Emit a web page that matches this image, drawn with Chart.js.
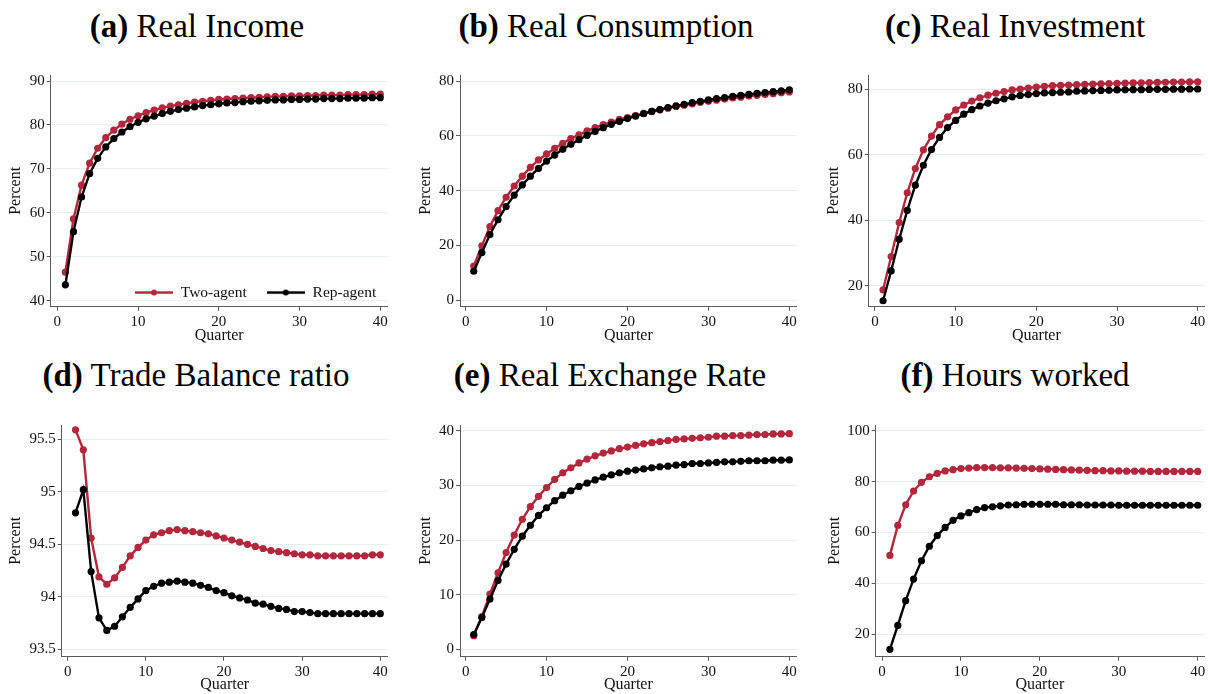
<!DOCTYPE html>
<html><head><meta charset="utf-8">
<script src="https://cdn.jsdelivr.net/npm/chart.js@4.4.1/dist/chart.umd.min.js"></script>
<style>
html,body{margin:0;padding:0;background:#fff;}
body{width:1208px;height:694px;position:relative;overflow:hidden;}
.title{position:absolute;font-family:'Liberation Serif',serif;font-size:33px;line-height:33px;color:#000;white-space:nowrap;transform:translateX(-50%);}
.title b{font-weight:bold;}
canvas{position:absolute;}
</style></head><body>
<div class="title" style="left:197px;top:10px"><b>(a)</b> Real Income</div>
<div class="title" style="left:606px;top:10px"><b>(b)</b> Real Consumption</div>
<div class="title" style="left:1015px;top:10px"><b>(c)</b> Real Investment</div>
<div class="title" style="left:196px;top:359px"><b>(d)</b> Trade Balance ratio</div>
<div class="title" style="left:610px;top:359px"><b>(e)</b> Real Exchange Rate</div>
<div class="title" style="left:1015px;top:359px"><b>(f)</b> Hours worked</div>
<script>
// ---------- data ----------
const quarters = [1,2,3,4,5,6,7,8,9,10,11,12,13,14,15,16,17,18,19,20,21,22,23,24,25,26,27,28,29,30,31,32,33,34,35,36,37,38,39,40];
const xTicks = [0,10,20,30,40];
const seriesLabels = ['Two-agent','Rep-agent'];

const incomeTwo = [46.5,58.6,66.3,71.3,74.7,77.1,78.8,80.2,81.3,82.1,82.8,83.4,83.9,84.3,84.6,84.9,85.2,85.4,85.6,85.8,85.9,86.0,86.1,86.2,86.3,86.4,86.5,86.5,86.6,86.6,86.7,86.7,86.8,86.8,86.8,86.9,86.9,86.9,87.0,87.0];
const incomeRep = [43.6,55.7,63.6,68.9,72.4,75.0,76.9,78.4,79.6,80.6,81.4,82.0,82.6,83.1,83.5,83.8,84.1,84.4,84.6,84.8,85.0,85.1,85.3,85.4,85.5,85.6,85.7,85.7,85.8,85.8,85.9,85.9,86.0,86.0,86.0,86.1,86.1,86.1,86.2,86.2];
const incomeTicks = [40,50,60,70,80,90];

const consTwo = [12.5,19.9,26.9,32.7,37.6,41.7,45.3,48.5,51.2,53.4,55.4,57.3,59.0,60.4,61.8,63.0,64.1,65.0,66.0,66.7,67.4,68.2,68.9,69.5,70.1,70.7,71.2,71.7,72.2,72.6,73.0,73.4,73.8,74.1,74.5,74.8,75.1,75.4,75.7,76.0];
const consRep = [10.6,17.4,24.0,29.4,34.2,38.4,42.1,45.3,48.1,50.8,53.0,55.1,56.9,58.6,60.2,61.6,63.0,64.2,65.3,66.3,67.2,68.1,68.9,69.6,70.3,70.9,71.5,72.1,72.6,73.1,73.6,74.0,74.4,74.8,75.1,75.5,75.8,76.1,76.4,76.8];
const consTicks = [0,20,40,60,80];

const invTwo = [18.7,28.9,39.3,48.4,55.8,61.5,65.7,69.2,71.6,73.7,75.2,76.4,77.4,78.2,78.8,79.3,79.8,80.1,80.4,80.7,80.9,81.1,81.2,81.3,81.4,81.5,81.6,81.7,81.75,81.8,81.9,81.95,82.0,82.05,82.1,82.15,82.2,82.2,82.25,82.3];
const invRep = [15.4,24.5,34.2,43.0,50.7,56.8,61.6,65.3,68.3,70.5,72.4,73.8,74.9,75.8,76.5,77.1,77.7,78.1,78.4,78.7,78.9,79.0,79.1,79.2,79.4,79.5,79.6,79.65,79.7,79.8,79.85,79.9,79.9,79.95,80.0,80.0,80.05,80.05,80.1,80.1];
const invTicks = [20,40,60,80];

const tradeTwo = [95.59,95.40,94.56,94.19,94.12,94.18,94.28,94.39,94.47,94.54,94.59,94.61,94.63,94.64,94.63,94.62,94.61,94.60,94.58,94.56,94.54,94.52,94.50,94.48,94.46,94.44,94.43,94.42,94.41,94.40,94.40,94.39,94.39,94.39,94.39,94.39,94.39,94.39,94.40,94.40];
const tradeRep = [94.80,95.02,94.24,93.80,93.68,93.72,93.81,93.90,93.98,94.06,94.10,94.13,94.14,94.15,94.14,94.13,94.11,94.09,94.06,94.04,94.01,93.99,93.97,93.94,93.93,93.91,93.89,93.88,93.86,93.86,93.85,93.84,93.84,93.84,93.84,93.84,93.84,93.84,93.84,93.84];
const tradeTicks = [93.5,94,94.5,95,95.5];

const rerTwo = [2.5,6.0,10.1,14.0,17.7,20.9,23.8,26.1,28.0,29.6,31.1,32.3,33.2,34.1,34.8,35.4,35.9,36.3,36.7,37.0,37.3,37.6,37.8,38.0,38.2,38.4,38.5,38.6,38.7,38.8,39.0,39.0,39.1,39.1,39.2,39.3,39.3,39.4,39.4,39.45];
const rerRep = [2.7,5.8,9.2,12.6,15.6,18.3,20.7,22.7,24.5,25.9,27.2,28.2,29.0,29.8,30.4,31.0,31.5,31.9,32.3,32.6,32.8,33.0,33.2,33.4,33.5,33.7,33.8,34.0,34.0,34.1,34.2,34.3,34.3,34.4,34.5,34.5,34.5,34.6,34.6,34.65];
const rerTicks = [0,10,20,30,40];

const hoursTwo = [51.0,62.8,70.9,76.3,79.7,81.9,83.2,84.2,84.7,85.1,85.3,85.5,85.5,85.5,85.4,85.4,85.3,85.2,85.1,85.0,84.9,84.8,84.7,84.6,84.5,84.4,84.3,84.3,84.2,84.2,84.1,84.1,84.1,84.0,84.0,84.0,84.0,84.0,84.0,84.0];
const hoursRep = [14.1,23.5,33.2,41.7,48.9,54.6,58.8,62.0,64.8,66.5,67.8,69.0,69.8,70.1,70.5,70.8,70.9,71.1,71.1,71.1,71.1,71.1,70.9,70.9,70.9,70.8,70.8,70.8,70.8,70.7,70.7,70.7,70.7,70.7,70.7,70.7,70.7,70.7,70.7,70.7];
const hoursTicks = [20,40,60,80,100];

// ---------- style ----------
const RED = '#b4263c';
const BLACK = '#000000';
const AXIS = '#5a5a5a';
const GRID = '#e8eef0';
const TXT = '#111111';
const FONT = "'Liberation Serif', 'Times New Roman', serif";

function swatch(color) {
  const c = document.createElement('canvas');
  c.width = 38; c.height = 9;
  const g = c.getContext('2d');
  g.strokeStyle = color; g.lineWidth = 2.5;
  g.beginPath(); g.moveTo(0, 4.5); g.lineTo(38, 4.5); g.stroke();
  g.fillStyle = color; g.beginPath(); g.arc(19, 4.5, 3.0, 0, Math.PI * 2); g.fill();
  return c;
}

const legendMover = {
  id: 'legendMover',
  beforeLayout(chart, args, opts) {
    const lg = chart.legend;
    if (!lg || lg.__patched) return;
    const orig = lg.fit;
    lg.fit = function () { orig.call(this); this.__h = this.height; this.height = 0; };
    lg.__patched = true;
  },
  afterLayout(chart, args, opts) {
    const lg = chart.legend;
    if (!lg) return;
    const pad = 20;
    lg.left = opts.x - pad;
    lg.right = chart.width;
    lg.top = opts.cy - 7.5 - pad;
    lg.bottom = lg.top + 60;
    lg.width = lg.right - lg.left;
    lg.height = 60;
  }
};

// ---------- panels (layout only) ----------
const panels = [
  {box:[0,60,400,290], area:[50.7,75,387.7,306.7], xr:[-0.82,40.92], yr:[38.63,91.37], two:incomeTwo, rep:incomeRep, yTicks:incomeTicks, yTitlePad:6, xTitlePad:5, legend:true},
  {box:[400,60,410,290], area:[460,75,796.7,306.7], xr:[-0.70,40.91], yr:[-2.33,82.2], two:consTwo, rep:consRep, yTicks:consTicks, yTitlePad:16, xTitlePad:5},
  {box:[810,60,398,290], area:[868.7,75,1205,306.7], xr:[-0.78,40.78], yr:[13.58,84.37], two:invTwo, rep:invRep, yTicks:invTicks, yTitlePad:14, xTitlePad:5},
  {box:[0,410,400,284], area:[61.7,425,387.7,656.7], xr:[-0.77,40.95], yr:[93.43,95.636], two:tradeTwo, rep:tradeRep, yTicks:tradeTicks, yTitlePad:6, xTitlePad:0},
  {box:[400,410,410,284], area:[460,425,796.7,656.7], xr:[-0.70,40.91], yr:[-1.35,41.04], two:rerTwo, rep:rerRep, yTicks:rerTicks, yTitlePad:16, xTitlePad:0},
  {box:[810,410,398,284], area:[875.7,425,1205,656.7], xr:[-0.80,40.80], yr:[11.2,102.24], two:hoursTwo, rep:hoursRep, yTicks:hoursTicks, yTitlePad:15, xTitlePad:0}
];

function pts(vals) { return quarters.map((q, i) => ({x: q, y: vals[i]})); }

panels.forEach(p => {
  const [cl, ct, cw, ch] = p.box;
  const [al, at, ar, ab] = p.area;
  const cv = document.createElement('canvas');
  cv.width = cw; cv.height = ch;
  cv.style.left = cl + 'px'; cv.style.top = ct + 'px';
  cv.style.width = cw + 'px'; cv.style.height = ch + 'px';
  document.body.appendChild(cv);
  const ds = (label, vals, color, order) => ({
    label, data: pts(vals), borderColor: color, backgroundColor: color,
    pointBackgroundColor: color, pointBorderColor: color, pointBorderWidth: 0,
    pointRadius: 3.6, borderWidth: 2.4, tension: 0, order
  });
  const plugins = {
    tooltip: {enabled: false},
    legend: p.legend ? {
      display: true, position: 'bottom', align: 'start',
      labels: {
        usePointStyle: true, pointStyleWidth: 38, boxHeight: 9, padding: 20,
        font: {family: FONT, size: 15.5, lineHeight: 1}, color: TXT,
        generateLabels: chart => chart.data.datasets.map((d, i) => ({
          text: d.label, pointStyle: swatch(d.borderColor), fillStyle: d.borderColor,
          strokeStyle: d.borderColor, lineWidth: 0, hidden: false, datasetIndex: i, fontColor: TXT
        }))
      }
    } : {display: false}
  };
  if (p.legend) plugins.legendMover = {x: 135 - cl, cy: 292.3 - ct};
  new Chart(cv, {
    type: 'line',
    data: {datasets: [ds(seriesLabels[0], p.two, RED, 2), ds(seriesLabels[1], p.rep, BLACK, 1)]},
    options: {
      responsive: false, animation: false, devicePixelRatio: 1,
      events: [],
      layout: {padding: {left: 0, top: at - ct, right: cl + cw - ar, bottom: 0}},
      plugins,
      scales: {
        x: {
          type: 'linear', min: p.xr[0], max: p.xr[1],
          afterBuildTicks: s => { s.ticks = xTicks.map(v => ({value: v})); },
          afterFit: s => { s.height = ct + ch - ab; },
          grid: {drawOnChartArea: false, drawTicks: true, tickLength: 4, tickColor: AXIS, tickWidth: 1},
          border: {display: true, color: AXIS, width: 1},
          ticks: {font: {family: FONT, size: 15}, color: TXT, padding: 2, maxRotation: 0, autoSkip: false, callback: v => String(v)},
          title: {display: true, text: 'Quarter', font: {family: FONT, size: 16}, color: TXT, padding: {top: 0, bottom: p.xTitlePad}}
        },
        y: {
          type: 'linear', min: p.yr[0], max: p.yr[1],
          afterBuildTicks: s => { s.ticks = p.yTicks.map(v => ({value: v})); },
          afterFit: s => { s.width = al - cl; },
          grid: {color: GRID, lineWidth: 1, drawTicks: true, tickLength: 4, tickColor: AXIS, tickWidth: 1},
          border: {display: true, color: AXIS, width: 1},
          ticks: {font: {family: FONT, size: 15}, color: TXT, padding: 2, autoSkip: false, callback: v => String(v)},
          title: {display: true, text: 'Percent', font: {family: FONT, size: 16}, color: TXT, padding: {top: p.yTitlePad, bottom: 0}}
        }
      }
    },
    plugins: p.legend ? [legendMover] : []
  });
});
</script>
</body></html>
